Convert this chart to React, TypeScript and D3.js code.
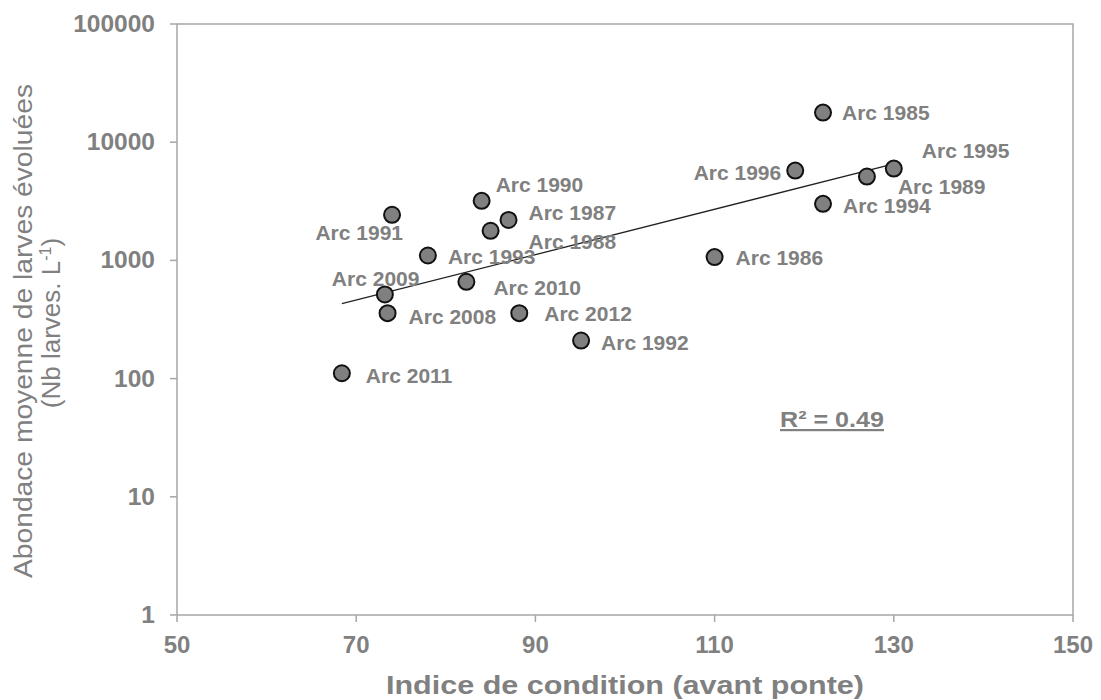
import React from "react";
import * as d3 from "d3";

const years = ["1985","1986","1987","1988","1989","1990","1991","1992","1993","1994","1995","1996","2008","2009","2010","2011","2012"];
const conditionIndex = [122.1,110.0,87.0,85.0,127.0,84.0,74.0,95.1,78.0,122.1,130.0,119.0,73.5,73.2,82.3,68.4,88.2];
const abundance = [17800,1066,2200,1780,5120,3190,2430,210,1100,3010,5980,5750,358,515,659,111,358];
const xTicks = [50,70,90,110,130,150];
const yTicks = [1,10,100,1000,10000,100000];
const r2Label = "R² = 0.49";
const xTitle = "Indice de condition (avant ponte)";
const yTitle1 = "Abondace moyenne de larves évoluées";

// label placement relative to each point: [dx, dy, anchor]
const labelPlacement: [number, number, string][] = [
  [19, 7, "start"], [21, 8, "start"], [20, 0, "start"], [38, 18, "start"], [31, 17, "start"],
  [14, -9, "start"], [11, 25, "end"], [20, 9, "start"], [20, 8, "start"], [20, 9, "start"],
  [28, -11, "start"], [-14, 9, "end"], [21, 11, "start"], [-53, -8, "start"], [27, 13, "start"],
  [24, 10, "start"], [25, 8, "start"],
];

const L = 177, R = 1073, T = 24, B = 615;
const axisColor = "#a6a6a6";
const textColor = "#808080";
const font = "'Liberation Sans', Arial, sans-serif";

export default function App() {
  const x = d3.scaleLinear().domain([50, 150]).range([L, R]);
  const y = d3.scaleLog().domain([1, 100000]).range([B, T]);

  const lx = conditionIndex;
  const ly = abundance.map((v) => Math.log10(v));
  const mx = d3.mean(lx)!;
  const my = d3.mean(ly)!;
  let sxy = 0, sxx = 0;
  lx.forEach((v, i) => { sxy += (v - mx) * (ly[i] - my); sxx += (v - mx) * (v - mx); });
  const slope = sxy / sxx;
  const icpt = my - slope * mx;
  const [x0, x1] = d3.extent(lx) as [number, number];
  const trend = d3.line<number>().x((d) => x(d)).y((d) => y(Math.pow(10, icpt + slope * d)));

  return (
    <svg width={1101} height={700} style={{ position: "absolute", left: 0, top: 0 }} fontFamily={font}>
      <rect x={0} y={0} width={1101} height={700} fill="#fff" />
      <rect x={L} y={T} width={R - L} height={B - T} fill="none" stroke={axisColor} strokeWidth={1.5} />
      {yTicks.map((t) => (
        <g key={"y" + t}>
          <line x1={L - 7} x2={L} y1={y(t)} y2={y(t)} stroke={axisColor} strokeWidth={1.5} />
          <text x={155} y={y(t) + 8} textAnchor="end" fontSize={24.5} fontWeight="bold" fill={textColor}>{t}</text>
        </g>
      ))}
      {xTicks.map((t) => (
        <g key={"x" + t}>
          <line x1={x(t)} x2={x(t)} y1={B} y2={B + 7} stroke={axisColor} strokeWidth={1.5} />
          <text x={x(t)} y={653} textAnchor="middle" fontSize={24} fontWeight="bold" fill={textColor}>{t}</text>
        </g>
      ))}
      <text x={625} y={694} textAnchor="middle" fontSize={25} fontWeight="bold" fill={textColor}
        textLength={478} lengthAdjust="spacingAndGlyphs">{xTitle}</text>
      <g transform="translate(32,331) rotate(-90)">
        <text x={0} y={0} textAnchor="middle" fontSize={26} fill={textColor}
          textLength={494} lengthAdjust="spacingAndGlyphs">{yTitle1}</text>
      </g>
      <g transform="translate(60,323) rotate(-90)">
        <text x={0} y={0} textAnchor="middle" fontSize={26} fill={textColor}>
          (Nb larves. L<tspan dy={-9} fontSize={16}>-1</tspan><tspan dy={9}>)</tspan>
        </text>
      </g>
      <path d={trend([x0, x1]) || ""} fill="none" stroke="#222" strokeWidth={1.3} />
      {conditionIndex.map((cx, i) => (
        <circle key={"p" + i} cx={x(cx)} cy={y(abundance[i])} r={8} fill="#808080" stroke="#111" strokeWidth={2} />
      ))}
      {conditionIndex.map((cx, i) => {
        const [dx, dy, anchor] = labelPlacement[i];
        return (
          <text key={"l" + i} x={x(cx) + dx} y={y(abundance[i]) + dy} textAnchor={anchor as any}
            fontSize={21} fontWeight="bold" fill={textColor}>{"Arc " + years[i]}</text>
        );
      })}
      <text x={780} y={427} fontSize={22} fontWeight="bold" fill={textColor} textDecoration="underline"
        textLength={104} lengthAdjust="spacingAndGlyphs">{r2Label}</text>
    </svg>
  );
}
